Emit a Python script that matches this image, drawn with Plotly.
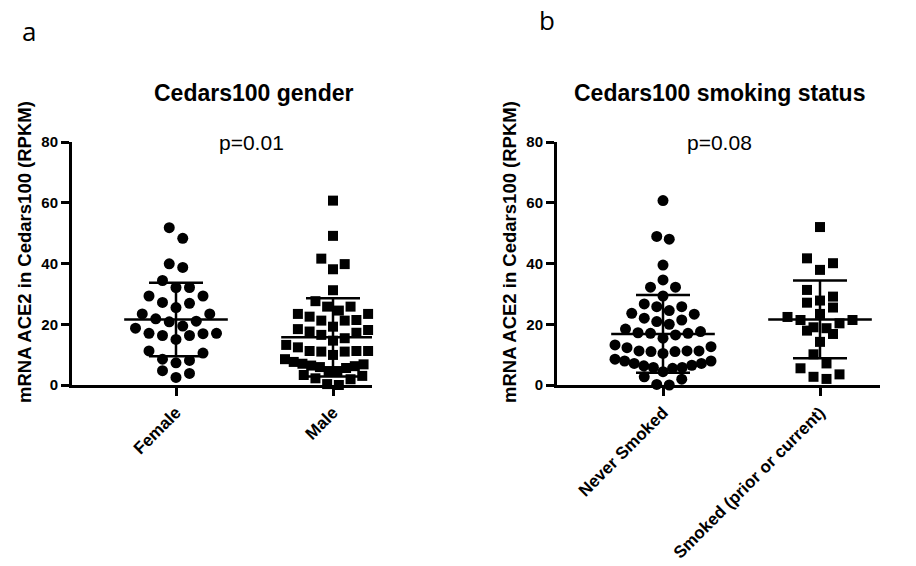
import plotly.graph_objects as go

# ---------------- data ----------------
female = [51.8, 48.3, 39.9, 38.7, 34.4, 32.1, 32.1, 29.3, 29.3, 27.2, 26.9, 25.5,
          23.4, 23.4, 21.8, 21.0, 20.8, 19.4, 18.7, 17.0, 17.0, 16.9, 16.3, 16.3,
          15.0, 11.2, 10.5, 8.5, 8.1, 7.3, 4.7, 3.8, 2.5]
male = [60.7, 49.1, 41.6, 39.8, 38.1, 31.2, 27.6,
        25.8, 24.5, 23.4, 21.4, 21.2, 21.2, 22.5, 23.4, 25.8,
        19.2, 18.1, 17.2, 14.6, 15.4, 16.5, 17.6, 18.4,
        12.6, 11.2, 11.2, 11.0, 11.0, 11.2, 12.4, 13.2, 9.9,
        8.5, 8.2, 7.6, 7.0, 6.4, 5.9, 5.6, 6.2, 6.8, 7.6,
        4.6, 3.0, 1.9, 0.0, 0.3, 2.2, 3.3, 4.6]
never_smoked = [60.7, 48.9, 48.0, 39.5, 34.6, 32.2, 32.2, 29.3, 26.7,
                25.8, 23.6, 22.0, 20.9, 21.4, 23.3, 24.5, 25.8,
                20.0, 17.6, 17.0, 16.5, 15.4, 17.0, 17.2, 18.4,
                12.3, 11.2, 11.0, 13.2, 10.4, 11.0, 11.2, 11.2, 12.6,
                8.5, 7.9, 7.9, 7.1, 7.1, 6.5, 6.3, 5.8, 5.8, 5.5,
                4.4, 2.7, 1.9, 0.2, 0.0]
smoked = [52.0, 41.7, 40.1, 37.9, 31.3, 27.8, 29.1, 27.1, 25.5, 22.4, 23.4,
          21.4, 21.4, 20.3, 19.0, 17.9, 18.7, 16.8, 14.2, 10.1, 7.1, 5.5,
          3.5, 2.0, 2.7]

gender_labels = ["Female", "Male"]
smoking_labels = ["Never Smoked", "Smoked (prior or current)"]
gender_mean = [21.6, 15.7]
gender_sd = [12.1, 12.9]
smoking_mean = [16.8, 21.6]
smoking_sd = [12.8, 12.8]
p_values = ["p=0.01", "p=0.08"]
titles = ["Cedars100 gender", "Cedars100 smoking status"]
panel_letters = ["a", "b"]
y_title = "mRNA ACE2 in Cedars100 (RPKM)"
y_ticks = [0, 20, 40, 60, 80]

# ---------------- geometry / style ----------------
W, H = 916, 566
PX_X = 157.0                 # pixels per category unit
Y_BOTTOM_PX, Y_TOP_PX = 385, 142
PX_Y = (Y_BOTTOM_PX - Y_TOP_PX) / 80.0
FONT = "Liberation Sans, Arial, sans-serif"


def row_swarm(values, spacing_px, row_h=4.3, max_half_px=48.0):
    """GraphPad-like scatter: group close values into rows and spread each
    row symmetrically (lowest value in the middle)."""
    order = sorted(range(len(values)), key=lambda i: values[i])
    rows, cur = [], []
    for i in order:
        if cur and values[i] - values[cur[0]] > row_h:
            rows.append(cur)
            cur = []
        cur.append(i)
    if cur:
        rows.append(cur)
    xs = [0.0] * len(values)
    for r in rows:
        n = len(r)
        s = spacing_px
        if n > 1:
            s = min(spacing_px, 2 * max_half_px / (n - 1))
        if n % 2:
            slots = [0] + [v for k in range(1, n) for v in (k, -k)]
        else:
            slots = [v for k in range(n) for v in (k + 0.5, -(k + 0.5))]
        for idx, slot in zip(r, slots[:n]):
            xs[idx] = slot * s / PX_X
    return xs


def summary_lines(means, sds, half_mean=0.33, half_sd=0.172):
    xs, ys = [], []
    for i, (m, s) in enumerate(zip(means, sds)):
        xs += [i - half_mean, i + half_mean, None,
               i - half_sd, i + half_sd, None,
               i - half_sd, i + half_sd, None,
               i, i, None]
        ys += [m, m, None, m + s, m + s, None, m - s, m - s, None, m - s, m + s, None]
    return xs, ys


fig = go.Figure()

panels = [
    dict(groups=[female, male], symbols=["circle", "square"], sizes=[11, 10],
         spacing=[13.5, 11.7], means=gender_mean, sds=gender_sd, xa="x", ya="y"),
    dict(groups=[never_smoked, smoked], symbols=["circle", "square"], sizes=[11, 10],
         spacing=[12.5, 13.0], means=smoking_mean, sds=smoking_sd, xa="x2", ya="y2"),
]

for p in panels:
    for gi, (vals, sym, sz, sp) in enumerate(zip(p["groups"], p["symbols"],
                                                 p["sizes"], p["spacing"])):
        offs = row_swarm(vals, sp)
        fig.add_trace(go.Scatter(
            x=[gi + o for o in offs], y=vals, mode="markers",
            marker=dict(symbol=sym, size=sz, color="black", line=dict(width=0)),
            xaxis=p["xa"], yaxis=p["ya"], cliponaxis=False, showlegend=False,
            hoverinfo="skip"))
    lx, ly = summary_lines(p["means"], p["sds"])
    fig.add_trace(go.Scatter(x=lx, y=ly, mode="lines",
                             line=dict(color="black", width=2.5),
                             xaxis=p["xa"], yaxis=p["ya"], cliponaxis=False,
                             showlegend=False, hoverinfo="skip"))

ydom = [(H - Y_BOTTOM_PX) / H, (H - Y_TOP_PX) / H]


def bold(items):
    return ["<b>%s</b>" % t for t in items]


def xaxis(px_left, px_right, cat0_px, labels):
    return dict(
        domain=[px_left / W, px_right / W],
        range=[(px_left - cat0_px) / PX_X, (px_right - cat0_px) / PX_X],
        tickvals=[0, 1], ticktext=bold(labels), tickangle=-45,
        ticks="outside", ticklen=8, tickwidth=3, tickcolor="black",
        showline=True, linewidth=3, linecolor="black",
        showgrid=False, zeroline=False, automargin=False,
        tickfont=dict(family=FONT, size=17, color="black"))


def yaxis(anchor):
    return dict(
        domain=ydom, range=[0, 80], tickvals=y_ticks, ticktext=bold(y_ticks),
        anchor=anchor,
        ticks="outside", ticklen=8, tickwidth=3, tickcolor="black",
        showline=True, linewidth=3, linecolor="black",
        showgrid=False, zeroline=False, automargin=False,
        tickfont=dict(family=FONT, size=15, color="black"))


fig.update_layout(
    width=W, height=H, paper_bgcolor="white", plot_bgcolor="white",
    margin=dict(l=0, r=0, t=0, b=0),
    xaxis=dict(xaxis(72, 372, 176, gender_labels), anchor="y"),
    yaxis=yaxis("x"),
    xaxis2=dict(xaxis(557, 880, 663, smoking_labels), anchor="y2"),
    yaxis2=yaxis("x2"),
)

ann = []
for cx, txt in zip([254, 719], titles):
    ann.append(dict(x=cx / W, y=(H - 93) / H, xref="paper", yref="paper",
                    text="<b>%s</b>" % txt, showarrow=False,
                    xanchor="center", yanchor="middle",
                    font=dict(family=FONT, size=23, color="black")))
for cx, txt in zip([252, 719], p_values):
    ann.append(dict(x=cx / W, y=(H - 142) / H, xref="paper", yref="paper",
                    text=txt, showarrow=False, xanchor="center", yanchor="middle",
                    font=dict(family=FONT, size=21, color="black")))
for cx in [24, 509]:
    ann.append(dict(x=cx / W, y=(H - 252) / H, xref="paper", yref="paper",
                    text="<b>%s</b>" % y_title, showarrow=False, textangle=-90,
                    xanchor="center", yanchor="middle",
                    font=dict(family=FONT, size=18.5, color="black")))
for (cx, cy), txt in zip([(29, 31), (547, 20)], panel_letters):
    ann.append(dict(x=cx / W, y=(H - cy) / H, xref="paper", yref="paper",
                    text=txt, showarrow=False, xanchor="center", yanchor="middle",
                    font=dict(family="Open Sans, sans-serif", size=26, color="black")))
fig.update_layout(annotations=ann)

fig.write_html("out.html", config={"displayModeBar": False},
               post_script="document.body.style.margin='0';")
